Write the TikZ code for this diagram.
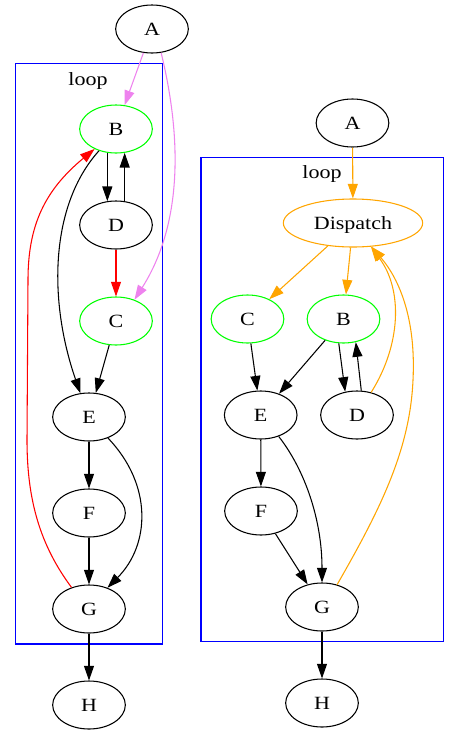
\documentclass[tikz,border=0pt]{standalone}
\usepackage{fontspec}
\setmainfont{Liberation Serif}[FakeStretch=1.18]
\usetikzlibrary{arrows.meta,shapes.geometric}
\definecolor{gvviolet}{HTML}{EE82EE}
\definecolor{gvgreen}{HTML}{00FF00}
\definecolor{gvorange}{HTML}{FFA500}
\definecolor{gvblue}{HTML}{0000FF}
\definecolor{gvred}{HTML}{FF0000}
\begin{document}
\begin{tikzpicture}[x=0.75pt,y=-0.75pt,
  gnode/.style={ellipse, draw, line width=0.8pt, minimum width=54.5pt, minimum height=36pt,
    inner sep=0pt, font=\fontsize{14}{16}\selectfont, text height=9.3pt, text depth=0pt},
  greennode/.style={gnode, draw=gvgreen},
  lbl/.style={inner sep=0pt, font=\fontsize{14}{16}\selectfont, text height=9.3pt, text depth=0pt},
  edge/.style={line width=0.8pt, -{Triangle[length=11pt,width=7.5pt]}},
  cluster/.style={draw=gvblue, line width=0.8pt}]
\useasboundingbox (0,0) rectangle (460,732);
% ---------- left graph ----------
\draw[cluster] (15.7,63.3) rectangle (162.3,644);
\node[lbl] (lloop) at (88,79) {loop};
\node[gnode] (lA) at (152,29) {A};
\node[greennode] (lB) at (116,129) {B};
\node[gnode] (lD) at (116,225) {D};
\node[greennode] (lC) at (116,321) {C};
\node[gnode] (lE) at (89,417) {E};
\node[gnode] (lF) at (89,513) {F};
\node[gnode] (lG) at (89,609) {G};
\node[gnode] (lH) at (89,705) {H};
\draw[edge,gvviolet] (lA) -- (lB);
\draw[edge,gvviolet] (lA.-69) .. controls (180,130) and (185,220) .. (lC.49);
\draw[edge] (lB.-110) -- (lD.110);
\draw[edge] (lD.70) -- (lB.-70);
\draw[edge,gvred] (lD) -- (lC);
\draw[edge] (lB.-128) .. controls (50,205) and (48,300) .. (lE.110);
\draw[edge] (lC) -- (lE);
\draw[edge] (lE) -- (lF);
\draw[edge] (lE.-48) .. controls (153,485) and (150,545) .. (lG.49);
\draw[edge] (lF) -- (lG);
\draw[edge,gvred] (lG.129) .. controls (40,545) and (27,500) .. (27,440) -- (28,280)
  .. controls (28,225) and (45,190) .. (lB.-137);
\draw[edge] (lG) -- (lH);
% ---------- right graph ----------
\draw[cluster] (201,157.7) rectangle (443.7,641.7);
\node[lbl] (rloop) at (322,172) {loop};
\node[gnode] (rA) at (352.5,123) {A};
\node[gnode, draw=gvorange, minimum width=104.5pt] (rDisp) at (353,223) {Dispatch};
\node[greennode] (rC) at (247.5,319) {C};
\node[greennode] (rB) at (343.5,319) {B};
\node[gnode] (rE) at (260.7,415) {E};
\node[gnode] (rD) at (357,415) {D};
\node[gnode] (rF) at (261,511) {F};
\node[gnode] (rG) at (322,607) {G};
\node[gnode] (rH) at (322,703) {H};
\draw[edge,gvorange] (rA) -- (rDisp);
\draw[edge,gvorange] (rDisp) -- (rC);
\draw[edge,gvorange] (rDisp) -- (rB);
\draw[edge] (rC) -- (rE);
\draw[edge] (rB) -- (rE);
\draw[edge] (rB.-101) -- (rD.117);
\draw[edge] (rD.80) -- (rB.-62);
\draw[edge,gvorange] (rD.58) .. controls (401,345) and (403,290) .. (rDisp.-53);
\draw[edge,gvorange] (rG.56) .. controls (380,510) and (410,450) .. (413,380)
  .. controls (416,320) and (400,280) .. (rDisp.-52);
\draw[edge] (rE) -- (rF);
\draw[edge] (rE.-50) .. controls (305,470) and (322,520) .. (rG.north);
\draw[edge] (rF) -- (rG);
\draw[edge] (rG) -- (rH);
\end{tikzpicture}
\end{document}
